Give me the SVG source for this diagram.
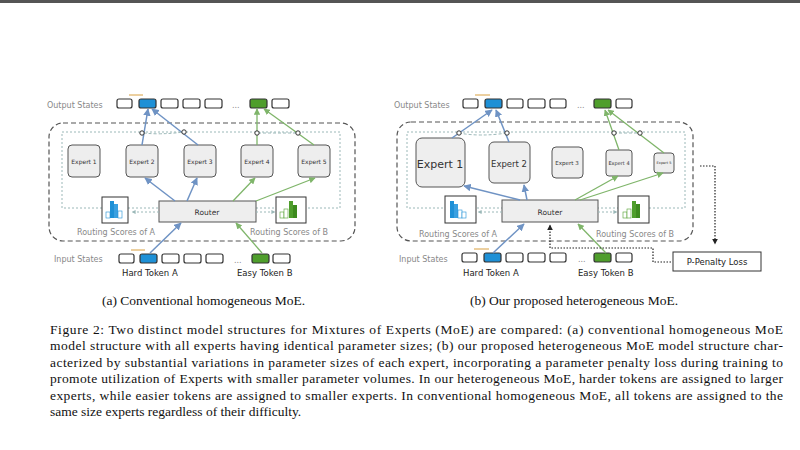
<svg xmlns="http://www.w3.org/2000/svg" width="800" height="450" viewBox="0 0 800 450">
<defs>
<marker id="ab" viewBox="0 0 10 10" refX="9" refY="5" markerWidth="5" markerHeight="5" orient="auto"><path d="M0,0L10,5L0,10z" fill="#6f93c4"/></marker>
<marker id="ag" viewBox="0 0 10 10" refX="9" refY="5" markerWidth="5" markerHeight="5" orient="auto"><path d="M0,0L10,5L0,10z" fill="#7fb56a"/></marker>
<marker id="ak" viewBox="0 0 10 10" refX="9" refY="5" markerWidth="5" markerHeight="5" orient="auto"><path d="M0,0L10,5L0,10z" fill="#222"/></marker>
<marker id="ad" viewBox="0 0 10 10" refX="9" refY="5" markerWidth="4" markerHeight="4" orient="auto"><path d="M0,0L10,5L0,10z" fill="#9bb8b8"/></marker>
</defs>
<style>
.lbl{font-family:"DejaVu Sans",sans-serif;font-size:8px;fill:#888}
.tk{fill:#fff;stroke:#333;stroke-width:1.2}
.tb{fill:#1e90d6;stroke:#333;stroke-width:1.2}
.tg{fill:#4f9e2c;stroke:#333;stroke-width:1.2}
.ex{fill:#eee;stroke:#555;stroke-width:1}
.et{font-family:"DejaVu Sans",sans-serif;fill:#333;text-anchor:middle}
.outer{fill:none;stroke:#555;stroke-width:1.2;stroke-dasharray:5 3}
.inner{fill:none;stroke:#9bb8b8;stroke-width:1;stroke-dasharray:2 2}
.bl{stroke:#6f93c4;stroke-width:1.5;fill:none;marker-end:url(#ab)}
.gl{stroke:#7fb56a;stroke-width:1.3;fill:none;marker-end:url(#ag)}
.dl{stroke:#9bb8b8;stroke-dasharray:2 2;fill:none;marker-end:url(#ad)}
.cap{font-family:"Liberation Serif",serif;font-size:13.5px;fill:#111}
.tl{font-family:"DejaVu Sans",sans-serif;font-size:8.5px;fill:#222}
.x{fill:#fff;stroke:#333;stroke-width:1}
</style>
<rect width="800" height="450" fill="#fff"/>
<rect width="800" height="3" fill="#555"/>

<g id="left-frame">
<rect class="outer" x="49" y="123" width="306" height="118" rx="14"/>
<rect class="inner" x="62" y="132" width="278" height="76"/>
</g>
<g id="left-output">
<text class="lbl" x="47" y="108">Output States</text>
<rect class="tk" x="117" y="99" width="15" height="9" rx="2"/>
<rect class="tb" x="139" y="99" width="17" height="9" rx="2"/>
<rect class="tk" x="161" y="99" width="17" height="9" rx="2"/>
<rect class="tk" x="183" y="99" width="17" height="9" rx="2"/>
<rect class="tk" x="205" y="99" width="17" height="9" rx="2"/>
<text class="lbl" x="232" y="108">...</text>
<rect class="tg" x="250" y="99" width="17" height="9" rx="2"/>
<rect class="tk" x="272" y="99" width="17" height="9" rx="2"/>
<line x1="129" y1="95" x2="143" y2="95" stroke="#d9a040" stroke-width="1"/>
</g>
<g id="left-experts">
<rect class="ex" x="68" y="145" width="32" height="32" rx="4"/><text class="et" x="84" y="164" font-size="6">Expert 1</text>
<rect class="ex" x="126" y="145" width="32" height="32" rx="4"/><text class="et" x="142" y="164" font-size="6">Expert 2</text>
<rect class="ex" x="184" y="145" width="32" height="32" rx="4"/><text class="et" x="200" y="164" font-size="6">Expert 3</text>
<rect class="ex" x="241" y="145" width="32" height="32" rx="4"/><text class="et" x="257" y="164" font-size="6">Expert 4</text>
<rect class="ex" x="298" y="145" width="32" height="32" rx="4"/><text class="et" x="314" y="164" font-size="6">Expert 5</text>
</g>
<g id="left-router">
<rect x="159" y="201" width="97" height="21" fill="#eee" stroke="#555"/>
<text class="et" x="207" y="215" font-size="7.5">Router</text>
</g>
<g id="left-scoresA">
<rect x="102" y="197" width="26" height="26" fill="#fff" stroke="#333"/>
<rect x="106" y="212" width="4" height="6" fill="#fff" stroke="#1e90d6" stroke-width=".6"/>
<rect x="110" y="201" width="4" height="17" fill="#1e90d6"/>
<rect x="114" y="204" width="4" height="14" fill="#3aa0e0"/>
<rect x="118" y="211" width="4" height="7" fill="#fff" stroke="#1e90d6" stroke-width=".6"/>
<text class="lbl" x="77" y="235">Routing Scores of A</text>
</g>
<g id="left-scoresB">
<rect x="276" y="197" width="30" height="26" fill="#fff" stroke="#333"/>
<rect x="280" y="212" width="4" height="6" fill="#fff" stroke="#4f9e2c" stroke-width=".6"/>
<rect x="284" y="209" width="4" height="9" fill="#fff" stroke="#4f9e2c" stroke-width=".6"/>
<rect x="289" y="201" width="4" height="17" fill="#4f9e2c"/>
<rect x="293" y="205" width="4" height="13" fill="#3d8a1e"/>
<text class="lbl" x="250" y="235">Routing Scores of B</text>
</g>
<g id="left-input">
<text class="lbl" x="54" y="262">Input States</text>
<rect class="tk" x="119" y="254" width="15" height="9" rx="2"/>
<rect class="tb" x="140" y="254" width="17" height="9" rx="2"/>
<rect class="tk" x="162" y="254" width="17" height="9" rx="2"/>
<rect class="tk" x="184" y="254" width="17" height="9" rx="2"/>
<rect class="tk" x="206" y="254" width="17" height="9" rx="2"/>
<text class="lbl" x="234" y="263">...</text>
<rect class="tg" x="252" y="254" width="17" height="9" rx="2"/>
<rect class="tk" x="273" y="254" width="17" height="9" rx="2"/>
<line x1="131" y1="250" x2="145" y2="250" stroke="#d9a040" stroke-width="1"/>
<text class="tl" x="122" y="276">Hard Token A</text>
<text class="tl" x="237" y="276">Easy Token B</text>
</g>
<g id="left-connectors">
<path class="bl" d="M150,253L181,223"/>
<path class="bl" d="M175,201L145,178"/>
<path class="bl" d="M187,201L197,178"/>
<path class="bl" d="M142,145L148,109"/>
<path class="bl" d="M198,145L152,109"/>
<path class="gl" d="M262,253L236,223"/>
<path class="gl" d="M233,201L255,178"/>
<path class="gl" d="M256,201L315,178"/>
<path class="gl" d="M257,145L257,109"/>
<path class="gl" d="M314,145L264,109"/>
<path class="dl" d="M159,212L132,212"/>
<path class="dl" d="M256,212L275,212"/>
<path d="M144,133Q160,135 184,132" fill="none" stroke="#9bb8b8" stroke-dasharray="3 2"/>
<path d="M258,133L298,133" fill="none" stroke="#9bb8b8" stroke-dasharray="3 2"/>
<circle class="x" cx="142" cy="133" r="2.2"/><circle class="x" cx="184" cy="132" r="2.2"/>
<circle class="x" cx="257" cy="133" r="2.2"/><circle class="x" cx="298" cy="133" r="2.2"/>
</g>

<g id="right-frame">
<rect class="outer" x="397" y="122" width="296" height="119" rx="14"/>
<rect class="inner" x="407" y="132" width="278" height="76"/>
</g>
<g id="right-output">
<text class="lbl" x="394" y="108">Output States</text>
<rect class="tk" x="463" y="99" width="15" height="9" rx="2"/>
<rect class="tb" x="485" y="99" width="17" height="9" rx="2"/>
<rect class="tk" x="507" y="99" width="16" height="9" rx="2"/>
<rect class="tk" x="528" y="99" width="17" height="9" rx="2"/>
<rect class="tk" x="550" y="99" width="16" height="9" rx="2"/>
<text class="lbl" x="577" y="108">...</text>
<rect class="tg" x="594" y="99" width="17" height="9" rx="2"/>
<rect class="tk" x="616" y="99" width="16" height="9" rx="2"/>
<line x1="475" y1="95" x2="490" y2="95" stroke="#d9a040" stroke-width="1"/>
</g>
<g id="right-experts">
<rect class="ex" x="416" y="138" width="49" height="49" rx="6"/><text class="et" x="440" y="168" font-size="11">Expert 1</text>
<rect class="ex" x="489" y="142" width="41" height="41" rx="5"/><text class="et" x="509" y="167" font-size="8.5">Expert 2</text>
<rect class="ex" x="552" y="147" width="31" height="31" rx="4"/><text class="et" x="567" y="165" font-size="5.5">Expert 3</text>
<rect class="ex" x="606" y="150" width="26" height="26" rx="3"/><text class="et" x="619" y="165" font-size="5">Expert 4</text>
<rect class="ex" x="654" y="153" width="20" height="20" rx="3"/><text class="et" x="664" y="164" font-size="3.5">Expert 5</text>
</g>
<g id="right-router">
<rect x="502" y="200" width="96" height="22" fill="#eee" stroke="#555"/>
<text class="et" x="550" y="215" font-size="7.5">Router</text>
</g>
<g id="right-scoresA">
<rect x="445" y="196" width="31" height="27" fill="#fff" stroke="#333"/>
<rect x="450" y="201" width="4" height="17" fill="#1e90d6"/>
<rect x="454" y="204" width="4" height="14" fill="#3aa0e0"/>
<rect x="458" y="210" width="4" height="8" fill="#fff" stroke="#1e90d6" stroke-width=".6"/>
<rect x="462" y="212" width="4" height="6" fill="#fff" stroke="#1e90d6" stroke-width=".6"/>
<text class="lbl" x="419" y="237">Routing Scores of A</text>
</g>
<g id="right-scoresB">
<rect x="618" y="196" width="31" height="27" fill="#fff" stroke="#333"/>
<rect x="623" y="212" width="4" height="6" fill="#fff" stroke="#4f9e2c" stroke-width=".6"/>
<rect x="627" y="209" width="4" height="9" fill="#fff" stroke="#4f9e2c" stroke-width=".6"/>
<rect x="632" y="201" width="4" height="17" fill="#4f9e2c"/>
<rect x="636" y="204" width="4" height="14" fill="#3d8a1e"/>
<text class="lbl" x="596" y="237">Routing Scores of B</text>
</g>
<g id="right-input">
<text class="lbl" x="399" y="262">Input States</text>
<rect class="tk" x="462" y="253" width="15" height="9" rx="2"/>
<rect class="tb" x="484" y="253" width="17" height="9" rx="2"/>
<rect class="tk" x="506" y="253" width="17" height="9" rx="2"/>
<rect class="tk" x="528" y="253" width="17" height="9" rx="2"/>
<rect class="tk" x="550" y="253" width="16" height="9" rx="2"/>
<text class="lbl" x="578" y="262">...</text>
<rect class="tg" x="594" y="253" width="17" height="9" rx="2"/>
<rect class="tk" x="616" y="253" width="16" height="9" rx="2"/>
<line x1="474" y1="249" x2="489" y2="249" stroke="#d9a040" stroke-width="1"/>
<text class="tl" x="463" y="276">Hard Token A</text>
<text class="tl" x="578" y="276">Easy Token B</text>
</g>
<g id="right-penalty">
<rect x="673" y="252" width="88" height="19" fill="#fff" stroke="#333"/>
<text class="tl" x="717" y="265" text-anchor="middle">P-Penalty Loss</text>
</g>
<g id="right-connectors">
<path class="bl" stroke-width="2.4" d="M493,253L524,224"/>
<path class="bl" stroke-width="2.4" d="M520,200L464,186"/>
<path class="bl" stroke-width="2.4" d="M527,200L524,185"/>
<path class="bl" stroke-width="2.4" d="M452,138L492,110"/>
<path class="bl" stroke-width="2.4" d="M509,142L496,110"/>
<path class="gl" d="M606,253L578,224"/>
<path class="gl" d="M575,200L618,176"/>
<path class="gl" d="M580,200L663,173"/>
<path class="gl" d="M619,150L605,110"/>
<path class="gl" d="M664,153L608,110"/>
<path class="dl" d="M502,212L478,212"/>
<path class="dl" d="M598,212L617,212"/>
<path d="M459,133Q480,137 507,133" fill="none" stroke="#9bb8b8" stroke-dasharray="3 2"/>
<path d="M614,133L640,133" fill="none" stroke="#9bb8b8" stroke-dasharray="3 2"/>
<circle class="x" cx="459" cy="133" r="2.2"/><circle class="x" cx="507" cy="133" r="2.2"/>
<circle class="x" cx="614" cy="133" r="2.2"/><circle class="x" cx="640" cy="133" r="2.2"/>
<path d="M700,166H715V244" fill="none" stroke="#222" stroke-width="1.2" stroke-dasharray="1.5 1.5" marker-end="url(#ak)"/>
<path d="M671,262H653V248H550V225" fill="none" stroke="#222" stroke-width="1.2" stroke-dasharray="1.5 1.5" marker-end="url(#ak)"/>
</g>

<g id="captions">
<text class="cap" x="102" y="305">(a) Conventional homogeneous MoE.</text>
<text class="cap" x="470" y="305">(b) Our proposed heterogeneous MoE.</text>
<text class="cap" x="50" y="334" textLength="733" lengthAdjust="spacing">Figure 2: Two distinct model structures for Mixtures of Experts (MoE) are compared: (a) conventional homogeneous MoE</text>
<text class="cap" x="50" y="350" textLength="733" lengthAdjust="spacing">model structure with all experts having identical parameter sizes; (b) our proposed heterogeneous MoE model structure char-</text>
<text class="cap" x="50" y="367" textLength="733" lengthAdjust="spacing">acterized by substantial variations in parameter sizes of each expert, incorporating a parameter penalty loss during training to</text>
<text class="cap" x="50" y="383" textLength="733" lengthAdjust="spacing">promote utilization of Experts with smaller parameter volumes. In our heterogeneous MoE, harder tokens are assigned to larger</text>
<text class="cap" x="50" y="400" textLength="733" lengthAdjust="spacing">experts, while easier tokens are assigned to smaller experts. In conventional homogeneous MoE, all tokens are assigned to the</text>
<text class="cap" x="50" y="416">same size experts regardless of their difficulty.</text>
</g>
</svg>
